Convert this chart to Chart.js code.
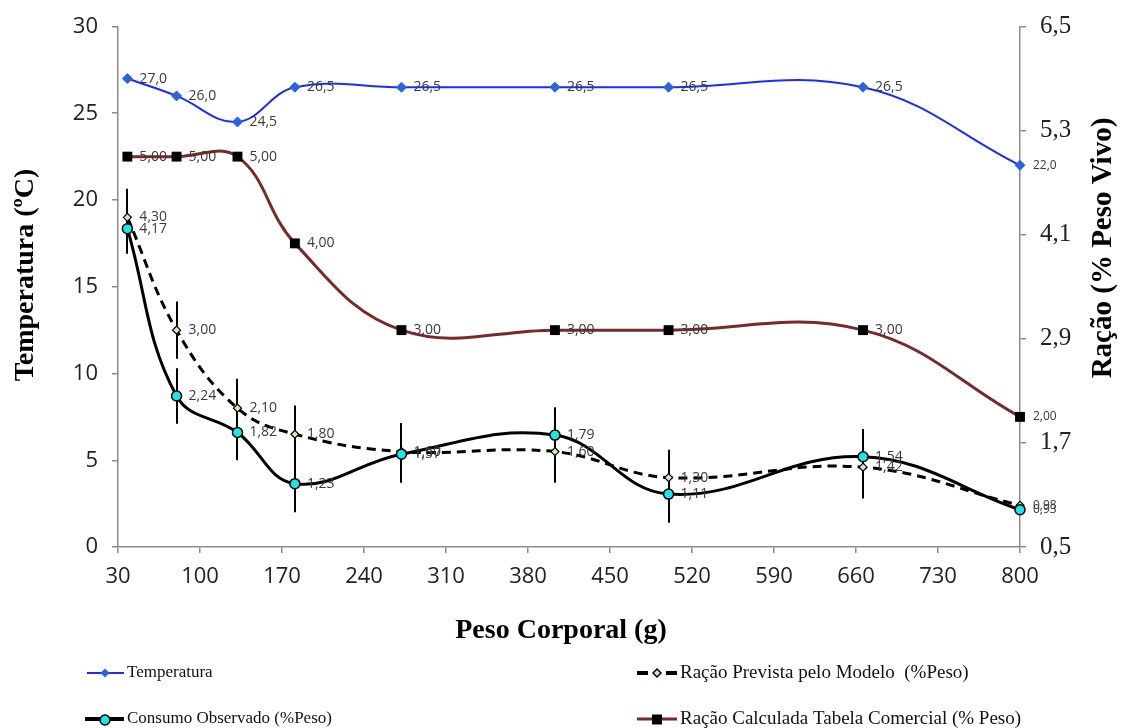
<!DOCTYPE html>
<html><head><meta charset="utf-8">
<script src="https://cdn.jsdelivr.net/npm/chart.js@4/dist/chart.umd.min.js"></script>
<style>html,body{margin:0;padding:0;background:#fff;}</style>
</head><body>
<canvas id="c" width="1122" height="728"></canvas>
<script>
// ---- data ----
const pesoCorporal = [38, 80, 132, 181, 272, 403, 500, 666, 800];
const temperatura = [27.0, 26.0, 24.5, 26.5, 26.5, 26.5, 26.5, 26.5, 22.0];
const racaoPrevista = [4.30, 3.00, 2.10, 1.80, 1.60, 1.60, 1.30, 1.42, 0.98];
const erroPrevista = [0.33, 0.33, 0.34, 0.33, 0.33, 0.36, 0.32, 0.36, 0];
const consumoObservado = [4.17, 2.24, 1.82, 1.23, 1.57, 1.79, 1.11, 1.54, 0.93];
const erroObservado = [0.29, 0.32, 0.32, 0.33, 0.33, 0.32, 0.33, 0.32, 0];
const racaoCalculada = [5.00, 5.00, 5.00, 4.00, 3.00, 3.00, 3.00, 3.00, 2.00];
const xTicks = [30, 100, 170, 240, 310, 380, 450, 520, 590, 660, 730, 800];
const leftTicks = [0, 5, 10, 15, 20, 25, 30];
const rightTicks = [0.5, 1.7, 2.9, 4.1, 5.3, 6.5];
const labelDecimals = [1, 2, 2, 2];
const titleX = 'Peso Corporal (g)';
const titleLeft = 'Temperatura (ºC)';
const titleRight = 'Ração (% Peso Vivo)';

const fmt = (v, d) => v.toFixed(d).replace('.', ',');
const pts = ys => pesoCorporal.map((x, i) => ({x: x, y: ys[i]}));
const SERIF = "'Liberation Serif', 'Times New Roman', serif";
const SANS = "'Open Sans', 'DejaVu Sans', sans-serif";
const AXIS = '#8c8c8c';

const errorBars = {
  id: 'errorBars',
  beforeDatasetsDraw(chart) {
    const ctx = chart.ctx, xs = chart.scales.x, ys = chart.scales.yR;
    ctx.save();
    ctx.strokeStyle = '#000';
    ctx.lineWidth = 2;
    [[racaoPrevista, erroPrevista], [consumoObservado, erroObservado]].forEach(([vals, errs]) => {
      vals.forEach((v, i) => {
        if (!errs[i]) return;
        const x = Math.round(xs.getPixelForValue(pesoCorporal[i]));
        ctx.beginPath();
        ctx.moveTo(x, ys.getPixelForValue(v + errs[i]));
        ctx.lineTo(x, ys.getPixelForValue(v - errs[i]));
        ctx.stroke();
      });
    });
    ctx.restore();
  }
};

const dataLabels = {
  id: 'dataLabels',
  afterDatasetsDraw(chart) {
    const ctx = chart.ctx;
    ctx.save();
    ctx.textBaseline = 'middle';
    ctx.textAlign = 'left';
    ctx.fillStyle = '#3a3a3a';
    chart.data.datasets.forEach((ds, di) => {
      const meta = chart.getDatasetMeta(di);
      const n = meta.data.length;
      meta.data.forEach((el, i) => {
        const last = i === n - 1;
        ctx.font = (last ? 12 : 14) + 'px ' + SANS;
        ctx.fillText(fmt(ds.data[i].y, labelDecimals[di]), el.x + (last ? 13 : 12), el.y);
      });
    });
    ctx.restore();
  }
};

const axisTitles = {
  id: 'axisTitles',
  afterDraw(chart) {
    const ctx = chart.ctx;
    ctx.save();
    ctx.fillStyle = '#000';
    ctx.font = 'bold 28px ' + SERIF;
    ctx.textAlign = 'center';
    ctx.textBaseline = 'middle';
    ctx.fillText(titleX, 561, 631);
    ctx.save();
    ctx.translate(26, 275); ctx.rotate(-Math.PI / 2);
    ctx.fillText(titleLeft, 0, 0);
    ctx.restore();
    ctx.save();
    ctx.translate(1104, 248); ctx.rotate(-Math.PI / 2);
    ctx.font = 'bold 29px ' + SERIF;
    ctx.fillText(titleRight, 0, 0);
    ctx.restore();
    ctx.restore();
  }
};

const customLegend = {
  id: 'customLegend',
  afterDraw(chart) {
    const ctx = chart.ctx;
    const ds = chart.data.datasets;
    ctx.save();
    ctx.font = '17px ' + SERIF;
    ctx.fillStyle = '#111';
    ctx.textBaseline = 'middle';
    // Temperatura
    let y = 673;
    ctx.strokeStyle = ds[0].borderColor; ctx.lineWidth = 2;
    ctx.beginPath(); ctx.moveTo(87, y); ctx.lineTo(124, y); ctx.stroke();
    ctx.fillStyle = ds[0].pointBackgroundColor;
    ctx.beginPath(); ctx.moveTo(105, y - 4.5); ctx.lineTo(109.5, y); ctx.lineTo(105, y + 4.5); ctx.lineTo(100.5, y); ctx.closePath(); ctx.fill();
    ctx.fillStyle = '#111';
    ctx.fillText(ds[0].label, 127, y);
    // Consumo Observado
    y = 719;
    ctx.strokeStyle = '#000'; ctx.lineWidth = 4;
    ctx.beginPath(); ctx.moveTo(85, y); ctx.lineTo(124, y); ctx.stroke();
    ctx.fillStyle = ds[2].pointBackgroundColor; ctx.lineWidth = 1.5;
    ctx.beginPath(); ctx.arc(105, y + 1, 5, 0, Math.PI * 2); ctx.fill(); ctx.stroke();
    ctx.fillStyle = '#111';
    ctx.fillText(ds[2].label, 127, y);
    // right column
    ctx.font = '19px ' + SERIF;
    // Ração Prevista
    y = 673;
    ctx.strokeStyle = '#000'; ctx.lineWidth = 4;
    ctx.beginPath(); ctx.moveTo(637, y); ctx.lineTo(648, y); ctx.moveTo(666, y); ctx.lineTo(677, y); ctx.stroke();
    ctx.fillStyle = ds[1].pointBackgroundColor; ctx.lineWidth = 1.5;
    ctx.beginPath(); ctx.moveTo(657, y - 4); ctx.lineTo(661, y); ctx.lineTo(657, y + 4); ctx.lineTo(653, y); ctx.closePath(); ctx.fill(); ctx.stroke();
    ctx.fillStyle = '#111';
    ctx.fillText(ds[1].label, 680, y);
    // Ração Calculada
    y = 719;
    ctx.strokeStyle = ds[3].borderColor; ctx.lineWidth = 3;
    ctx.beginPath(); ctx.moveTo(637, y); ctx.lineTo(677, y); ctx.stroke();
    ctx.fillStyle = '#000';
    ctx.fillRect(652, y - 4.5, 10, 10);
    ctx.fillStyle = '#111';
    ctx.fillText(ds[3].label, 680, y);
    ctx.restore();
  }
};

const baseAxis = {
  grid: {drawOnChartArea: false, drawTicks: true, tickLength: 6, color: AXIS, lineWidth: 1.5},
  border: {display: true, color: AXIS, width: 1.5}
};

new Chart(document.getElementById('c'), {
  type: 'line',
  data: {
    datasets: [
      {
        label: 'Temperatura', data: pts(temperatura), yAxisID: 'yT',
        borderColor: '#1a2cff', borderWidth: 2,
        pointStyle: 'rectRot', pointRadius: 5, pointBackgroundColor: '#2a63e0',
        pointBorderColor: '#2a63e0', pointBorderWidth: 1, order: 1
      },
      {
        label: 'Ração Prevista pelo Modelo  (%Peso)', data: pts(racaoPrevista), yAxisID: 'yR',
        borderColor: '#000', borderWidth: 3, borderDash: [9, 6],
        pointStyle: 'rectRot', pointRadius: 4, pointBackgroundColor: '#c8f0b4',
        pointBorderColor: '#000', pointBorderWidth: 1.2, order: 3
      },
      {
        label: 'Consumo Observado (%Peso)', data: pts(consumoObservado), yAxisID: 'yR',
        borderColor: '#000', borderWidth: 3,
        pointStyle: 'circle', pointRadius: 5, pointBackgroundColor: '#1ee6e6',
        pointBorderColor: '#000', pointBorderWidth: 1.5, order: 2
      },
      {
        label: 'Ração Calculada Tabela Comercial (% Peso)', data: pts(racaoCalculada), yAxisID: 'yR',
        borderColor: '#7a2929', borderWidth: 3,
        pointStyle: 'rect', pointRadius: 7, pointBackgroundColor: '#000',
        pointBorderColor: '#000', pointBorderWidth: 0, order: 4
      }
    ]
  },
  options: {
    responsive: false,
    animation: false,
    clip: false,
    elements: {line: {tension: 0.4, fill: false}},
    layout: {padding: {top: 25, bottom: 80, left: 0, right: 0}},
    plugins: {legend: {display: false}, tooltip: {enabled: false}},
    scales: {
      x: Object.assign({}, baseAxis, {
        type: 'linear', position: 'bottom', min: 30, max: 800,
        afterBuildTicks: ax => { ax.ticks = xTicks.map(v => ({value: v})); },
        afterFit: ax => { ax.height = 101; },
        ticks: {font: {family: SANS, size: 22, lineHeight: 1.2}, color: '#222', padding: 11, maxRotation: 0, autoSkip: false, callback: v => String(v)},
        title: {display: false}
      }),
      yT: Object.assign({}, baseAxis, {
        type: 'linear', position: 'left', min: 0, max: 30,
        afterBuildTicks: ax => { ax.ticks = leftTicks.map(v => ({value: v})); },
        afterFit: ax => { ax.width = 118; },
        ticks: {font: {family: SANS, size: 22, lineHeight: 1}, color: '#222', padding: 14, callback: v => String(v)},
        title: {display: false}
      }),
      yR: Object.assign({}, baseAxis, {
        type: 'linear', position: 'right', min: 0.5, max: 6.5,
        afterBuildTicks: ax => { ax.ticks = rightTicks.map(v => ({value: v})); },
        afterFit: ax => { ax.width = 102; },
        ticks: {font: {family: SERIF, size: 25, lineHeight: 1}, color: '#222', padding: 14, callback: v => fmt(v, 1)},
        title: {display: false}
      })
    }
  },
  plugins: [errorBars, dataLabels, axisTitles, customLegend]
});
</script>
</body></html>
